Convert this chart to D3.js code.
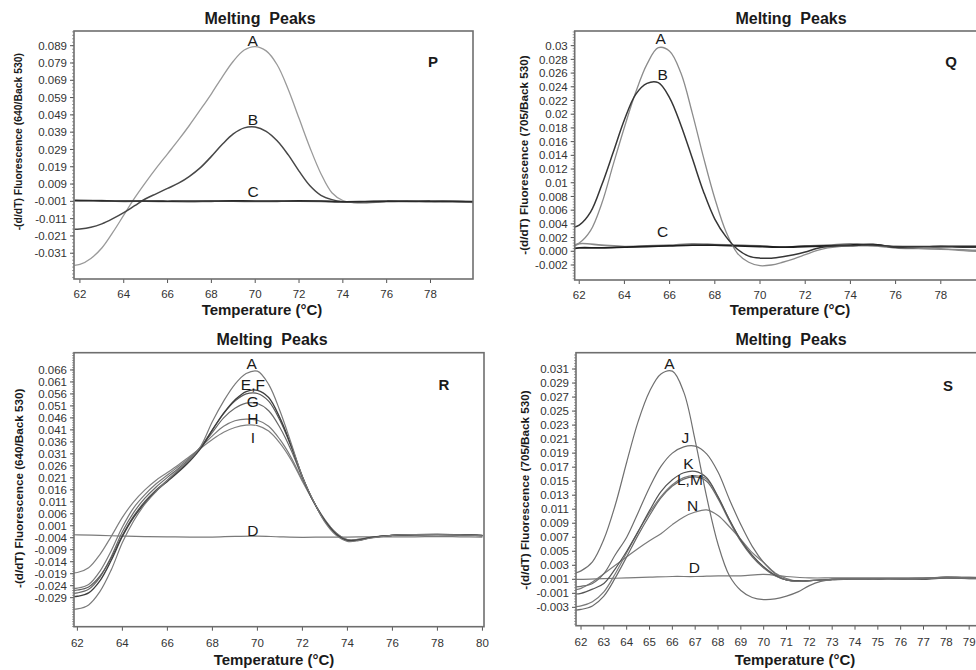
<!DOCTYPE html>
<html><head><meta charset="utf-8">
<script src="https://cdn.jsdelivr.net/npm/d3@7"></script>
<style>
body{margin:0;background:#fff;}
svg{display:block;font-family:"Liberation Sans",Arial,sans-serif;}
</style></head>
<body><svg id="chart" width="976" height="670"></svg>
<script>
// ---------- DATA ----------
const grid = [61.75,62,62.5,63,63.5,64,64.5,65,65.5,66,66.5,67,67.5,68,68.5,69,69.5,70,70.5,71,71.5,72,72.5,73,73.5,74,74.5,75,76,77,78,79,80];
const flatGrid = [61.75,62,63,64,65,66,67,68,69,70,71,72,73,74,75,76,77,78,79,80];

// Panel P (640/Back 530)
const pA = [-0.038,-0.0375,-0.034,-0.028,-0.019,-0.009,0.001,0.010,0.0185,0.0265,0.0345,0.043,0.052,0.0612,0.071,0.080,0.0865,0.0885,0.086,0.078,0.064,0.047,0.030,0.015,0.004,-0.0005,-0.0018,-0.002,-0.0012,-0.001,-0.0012,-0.0012,-0.0018];
const pB = [-0.0172,-0.017,-0.016,-0.014,-0.011,-0.0075,-0.0035,0.0005,0.0035,0.0065,0.0095,0.0135,0.0185,0.025,0.032,0.038,0.0415,0.042,0.0395,0.034,0.026,0.0165,0.008,0.0025,0.0,-0.0012,-0.0015,-0.0012,-0.001,-0.001,-0.001,-0.001,-0.0012];
const pC1 = [-0.0006,-0.0006,-0.0007,-0.0008,-0.0008,-0.0009,-0.0008,-0.0008,-0.0007,-0.0008,-0.0008,-0.0007,-0.0008,-0.0012,-0.0011,-0.0009,-0.001,-0.0009,-0.0011,-0.0011];
const pC2 = [-0.0004,-0.0005,-0.0006,-0.001,-0.0009,-0.0011,-0.0012,-0.001,-0.0009,-0.0011,-0.001,-0.0009,-0.001,-0.0014,-0.0015,-0.0011,-0.0009,-0.0012,-0.001,-0.0016];

// Panel Q (705/Back 530)
const qA = [0.0009,0.0012,0.003,0.007,0.0126,0.0181,0.0232,0.0273,0.0297,0.0292,0.026,0.0202,0.0137,0.0077,0.0028,-0.0003,-0.0016,-0.0021,-0.002,-0.0016,-0.0011,-0.0005,0.0001,0.0005,0.0007,0.0008,0.0008,0.0008,0.0007,0.0006,0.0004,0.0001,-0.0001];
const qB = [0.0035,0.0038,0.0057,0.0097,0.0144,0.0192,0.0229,0.0245,0.0246,0.0224,0.0184,0.0136,0.0087,0.0047,0.0021,0.0003,-0.0007,-0.001,-0.001,-0.0008,-0.0005,-0.0001,0.0004,0.0007,0.0008,0.0008,0.0009,0.0009,0.0007,0.0007,0.0007,0.0006,0.0006];
const qC1 = [0.0004,0.0005,0.0005,0.0006,0.0007,0.0008,0.0009,0.0009,0.0008,0.0007,0.0006,0.0007,0.0008,0.0009,0.001,0.0006,0.0006,0.0007,0.0007,0.0007];
const qC2 = [0.0007,0.0011,0.0009,0.0007,0.0008,0.0009,0.0011,0.001,0.0009,0.0008,0.0006,0.0008,0.0009,0.0011,0.0008,0.0005,0.0004,0.0003,0.0002,0.0001];

// Panel R (640/Back 530)
const rA = [-0.0338,-0.0337,-0.032,-0.0265,-0.0175,-0.006,0.003,0.010,0.0153,0.020,0.0245,0.0287,0.0345,0.0445,0.053,0.060,0.0645,0.0655,0.060,0.049,0.0355,0.0215,0.0112,0.0025,-0.003,-0.0055,-0.0052,-0.0042,-0.003,-0.0027,-0.0027,-0.0028,-0.0032];
const rE = [-0.0286,-0.0284,-0.027,-0.022,-0.0135,-0.0035,0.0045,0.0105,0.0155,0.0195,0.0235,0.028,0.0335,0.041,0.048,0.0535,0.057,0.0575,0.0545,0.046,0.0345,0.0215,0.011,0.003,-0.0025,-0.0052,-0.005,-0.004,-0.003,-0.0027,-0.0026,-0.0027,-0.0031];
const rF = [-0.026,-0.0258,-0.0245,-0.02,-0.0125,-0.003,0.005,0.0112,0.016,0.02,0.024,0.0285,0.034,0.041,0.0478,0.053,0.056,0.0562,0.053,0.045,0.034,0.0215,0.011,0.003,-0.0025,-0.005,-0.0049,-0.004,-0.003,-0.0028,-0.0027,-0.0027,-0.003];
const rG = [-0.0272,-0.027,-0.0255,-0.0205,-0.012,-0.0015,0.0065,0.0125,0.0172,0.0212,0.025,0.029,0.034,0.04,0.046,0.05,0.0522,0.052,0.049,0.042,0.0325,0.021,0.011,0.003,-0.0025,-0.005,-0.0048,-0.0039,-0.003,-0.0027,-0.0026,-0.0028,-0.0031];
const rH = [-0.0251,-0.025,-0.0235,-0.018,-0.0095,0.0005,0.0085,0.014,0.0185,0.0222,0.0258,0.0295,0.034,0.0385,0.0425,0.0448,0.0455,0.045,0.0425,0.037,0.0295,0.02,0.011,0.0035,-0.002,-0.0048,-0.0047,-0.0039,-0.003,-0.0027,-0.0027,-0.0027,-0.003];
const rI = [-0.0186,-0.0185,-0.0165,-0.011,-0.0035,0.0045,0.011,0.016,0.02,0.0232,0.0265,0.03,0.0335,0.037,0.04,0.042,0.043,0.0428,0.0405,0.0355,0.0285,0.0195,0.011,0.0035,-0.002,-0.0048,-0.0046,-0.0038,-0.003,-0.0028,-0.0027,-0.0028,-0.0032];
const rD = [-0.0027,-0.0028,-0.003,-0.0033,-0.0035,-0.0036,-0.0037,-0.0037,-0.0034,-0.0033,-0.0036,-0.0038,-0.0037,-0.0037,-0.0036,-0.0036,-0.0036,-0.0035,-0.0036,-0.0037];

// Panel S (705/Back 530)
const sA = [0.0019,0.0022,0.0035,0.0067,0.0116,0.0177,0.0235,0.0278,0.0303,0.0307,0.0277,0.0208,0.0128,0.006,0.0015,-0.0006,-0.0016,-0.0019,-0.0018,-0.0014,-0.0008,0.0001,0.0007,0.001,0.0011,0.0011,0.0011,0.0011,0.0011,0.0011,0.0013,0.0012,0.0011];
const sJ = [-0.0001,0.0,0.0004,0.0018,0.0045,0.007,0.0105,0.0141,0.0171,0.019,0.0199,0.02,0.0189,0.0163,0.0124,0.0088,0.0057,0.0034,0.0018,0.0009,0.0007,0.0008,0.0009,0.0009,0.001,0.001,0.001,0.0011,0.0011,0.0011,0.0012,0.0012,0.0011];
const sK = [-0.0011,-0.001,-0.0004,0.0004,0.0025,0.005,0.0078,0.0108,0.0135,0.0152,0.0162,0.0164,0.0155,0.0128,0.0095,0.0066,0.0044,0.0028,0.0016,0.0009,0.0008,0.0008,0.0009,0.001,0.001,0.0011,0.001,0.0011,0.0011,0.001,0.0012,0.0012,0.0011];
const sL = [-0.0029,-0.0028,-0.0022,-0.0008,0.0018,0.0048,0.0078,0.0105,0.0128,0.0145,0.0155,0.0158,0.0153,0.0127,0.0095,0.0066,0.0044,0.0027,0.0015,0.0009,0.0007,0.0008,0.0009,0.001,0.0011,0.001,0.0011,0.0011,0.001,0.0011,0.0012,0.0011,0.0011];
const sM = [-0.0034,-0.0033,-0.0028,-0.0014,0.0012,0.0042,0.0073,0.0101,0.0126,0.0143,0.0153,0.0156,0.015,0.0125,0.0093,0.0064,0.0042,0.0026,0.0015,0.0009,0.0007,0.0008,0.0009,0.001,0.001,0.0011,0.0011,0.001,0.0011,0.0011,0.0013,0.0012,0.0011];
const sN = [-0.0005,-0.0003,0.0006,0.0018,0.003,0.0042,0.0054,0.0065,0.0075,0.0088,0.0099,0.0106,0.0109,0.0101,0.0085,0.0067,0.0048,0.0034,0.0019,0.0011,0.0007,0.0008,0.0009,0.001,0.001,0.001,0.0011,0.0011,0.0011,0.0012,0.0012,0.0011,0.0011];
const sD = [0.001,0.001,0.0011,0.0012,0.0013,0.0014,0.0014,0.0015,0.0015,0.0017,0.0014,0.0012,0.0012,0.0012,0.0012,0.0012,0.0012,0.0013,0.0013,0.0012];

// Tick values and labels
const pXTicks = [62,64,66,68,70,72,74,76,78];
const qXTicks = [62,64,66,68,70,72,74,76,78];
const rXTicks = [62,64,66,68,70,72,74,76,78,80];
const sXTicks = [62,63,64,65,66,67,68,69,70,71,72,73,74,75,76,77,78,79];
const pYTicks = [-0.031,-0.021,-0.011,-0.001,0.009,0.019,0.029,0.039,0.049,0.059,0.069,0.079,0.089];
const pYLabels = ["-0.031","-0.021","-0.011","-0.001","0.009","0.019","0.029","0.039","0.049","0.059","0.069","0.079","0.089"];
const qYTicks = [-0.002,0,0.002,0.004,0.006,0.008,0.01,0.012,0.014,0.016,0.018,0.02,0.022,0.024,0.026,0.028,0.03];
const qYLabels = ["-0.002","0.000","0.002","0.004","0.006","0.008","0.01","0.012","0.014","0.016","0.018","0.02","0.022","0.024","0.026","0.028","0.03"];
const rYTicks = [-0.029,-0.024,-0.019,-0.014,-0.009,-0.004,0.001,0.006,0.011,0.016,0.021,0.026,0.031,0.036,0.041,0.046,0.051,0.056,0.061,0.066];
const rYLabels = ["-0.029","-0.024","-0.019","-0.014","-0.009","-0.004","0.001","0.006","0.011","0.016","0.021","0.026","0.031","0.036","0.041","0.046","0.051","0.056","0.061","0.066"];
const sYTicks = [-0.003,-0.001,0.001,0.003,0.005,0.007,0.009,0.011,0.013,0.015,0.017,0.019,0.021,0.023,0.025,0.027,0.029,0.031];
const sYLabels = ["-0.003","-0.001","0.001","0.003","0.005","0.007","0.009","0.011","0.013","0.015","0.017","0.019","0.021","0.023","0.025","0.027","0.029","0.031"];

// Curve labels (text, temperature, value)
const pLabels = [["A",69.88,0.0886],["B",69.9,0.0432],["C",69.9,0.0015]];
const qLabels = [["A",65.6,0.0302],["B",65.69,0.025],["C",65.69,0.0021]];
const rLabels = [["A",69.75,0.0663],["E,F",69.8,0.0577],["G",69.8,0.0507],["H",69.8,0.0435],["I",69.8,0.0355],["D",69.8,-0.0033]];
const sLabels = [["A",65.87,0.031],["J",66.57,0.0205],["K",66.7,0.0167],["L,M",66.77,0.01445],["N",66.89,0.01075],["D",66.96,0.00187]];

// ---------- DRAW ----------
const svg = d3.select("#chart");

const panels = [
  {id:"P", xd:[61.73,79.94], xr:[74,473], yd:[-0.0459,0.0975], yr:[279,31],
   xt:pXTicks, yt:pYTicks, yl:pYLabels, labels:pLabels,
   series:[[grid,pA,"#9a9a9a",1.3],[grid,pB,"#474747",1.5],[flatGrid,pC2,"#6a6a6a",1.6],[flatGrid,pC1,"#2a2a2a",1.6]],
   ytitle:"-(d/dT) Fluorescence (640/Back 530)", ytx:22, yty:141.7, ytsize:10.4,
   title:[260,23.5], xtitle:[262,315], letter:[433,66.5], xlabOff:18.5},
  {id:"Q", xd:[61.8,80], xr:[574.7,986], yd:[-0.00419,0.03214], yr:[280,31],
   xt:qXTicks, yt:qYTicks, yl:qYLabels, labels:qLabels,
   series:[[flatGrid,qC2,"#8a8a8a",1.6],[flatGrid,qC1,"#1e1e1e",1.8],[grid,qA,"#8c8c8c",1.3],[grid,qB,"#363636",1.5]],
   ytitle:"-(d/dT) Fluorescence (705/Back 530)", ytx:527.5, yty:155, ytsize:11.7,
   title:[791,23.5], xtitle:[790,315], letter:[951,66.5], xlabOff:18.5},
  {id:"R", xd:[61.85,80.07], xr:[74,484], yd:[-0.0411,0.0732], yr:[626.7,352.7],
   xt:rXTicks, yt:rYTicks, yl:rYLabels, labels:rLabels,
   series:[[flatGrid,rD,"#7a7a7a",1.2],[grid,rI,"#808080",1.2],[grid,rH,"#7a7a7a",1.2],[grid,rG,"#6a6a6a",1.2],[grid,rF,"#5a5a5a",1.2],[grid,rE,"#3e3e3e",1.3],[grid,rA,"#7a7a7a",1.2]],
   ytitle:"-(d/dT) Fluorescence (640/Back 530)", ytx:22.5, yty:488.3, ytsize:11.7,
   title:[272,345], xtitle:[274,665], letter:[444,389.5], xlabOff:20},
  {id:"S", xd:[61.78,80], xr:[576,992], yd:[-0.00562,0.03333], yr:[625.7,352.7],
   xt:sXTicks, yt:sYTicks, yl:sYLabels, labels:sLabels,
   series:[[flatGrid,sD,"#7a7a7a",1.2],[grid,sN,"#7a7a7a",1.2],[grid,sM,"#6a6a6a",1.2],[grid,sL,"#7a7a7a",1.2],[grid,sK,"#555",1.2],[grid,sJ,"#6e6e6e",1.2],[grid,sA,"#707070",1.2]],
   ytitle:"-(d/dT) Fluorescence (705/Back 530)", ytx:529, yty:490, ytsize:11.7,
   title:[791,345], xtitle:[795,665], letter:[948,391], xlabOff:20.5}
];

const defs = svg.append("defs");

panels.forEach(p => {
  const x = d3.scaleLinear().domain(p.xd).range(p.xr);
  const y = d3.scaleLinear().domain(p.yd).range(p.yr);
  const g = svg.append("g");
  const x0 = p.xr[0], x1 = p.xr[1], yTop = p.yr[1], yBot = p.yr[0];

  defs.append("clipPath").attr("id","clip"+p.id).append("rect")
    .attr("x",x0).attr("y",yTop).attr("width",x1-x0).attr("height",yBot-yTop);

  // title
  g.append("text").attr("x",p.title[0]).attr("y",p.title[1]).attr("text-anchor","middle")
    .attr("font-size",16).attr("font-weight","bold").attr("fill","#1a1a1a")
    .attr("xml:space","preserve").text("Melting  Peaks");

  // y axis (ticks outward + minor)
  const ya = g.append("g");
  const step = p.yt[1]-p.yt[0];
  const minor = [];
  for (let v = p.yt[0]; v <= p.yd[1]; v += step/5) minor.push(v);
  for (let v = p.yt[0]-step/5; v >= p.yd[0]; v -= step/5) minor.push(v);
  ya.selectAll(".mn").data(minor).join("line")
    .attr("x1",x0-2).attr("x2",x0).attr("y1",d=>y(d)).attr("y2",d=>y(d))
    .attr("stroke","#8a8a8a").attr("stroke-width",0.8);
  ya.selectAll(".mj").data(p.yt).join("line")
    .attr("x1",x0-4).attr("x2",x0).attr("y1",d=>y(d)).attr("y2",d=>y(d))
    .attr("stroke","#555").attr("stroke-width",1);
  ya.selectAll("text").data(p.yt).join("text")
    .attr("x",x0-7).attr("y",d=>y(d)).attr("dy","0.36em").attr("text-anchor","end")
    .attr("font-size",11.5).attr("fill","#333").text((d,i)=>p.yl[i]);

  // x axis
  const xa = g.append("g");
  xa.selectAll("line").data(p.xt).join("line")
    .attr("x1",d=>x(d)).attr("x2",d=>x(d)).attr("y1",yBot).attr("y2",yBot+4)
    .attr("stroke","#555").attr("stroke-width",1);
  xa.selectAll("text").data(p.xt).join("text")
    .attr("x",d=>x(d)).attr("y",yBot+p.xlabOff).attr("text-anchor","middle")
    .attr("font-size",11.5).attr("fill","#333").text(d=>d);

  // axis titles
  g.append("text").attr("x",p.xtitle[0]).attr("y",p.xtitle[1]).attr("text-anchor","middle")
    .attr("font-size",15).attr("font-weight","bold").attr("fill","#1a1a1a").text("Temperature (°C)");
  g.append("text").attr("transform",`translate(${p.ytx},${p.yty}) rotate(-90)`)
    .attr("text-anchor","middle").attr("font-size",p.ytsize).attr("font-weight","bold")
    .attr("fill","#1a1a1a").text(p.ytitle);

  // curves
  const plot = g.append("g").attr("clip-path",`url(#clip${p.id})`);
  const line = d3.line().curve(d3.curveCatmullRom.alpha(0.5));
  p.series.forEach(([xs,vals,col,w]) => {
    plot.append("path")
      .attr("d", line(xs.map((t,i)=>[x(t), y(vals[i])])))
      .attr("fill","none").attr("stroke",col).attr("stroke-width",w);
  });

  // frame
  g.append("rect").attr("x",x0).attr("y",yTop).attr("width",x1-x0).attr("height",yBot-yTop)
    .attr("fill","none").attr("stroke","#6e6e6e").attr("stroke-width",1.6);

  // curve labels
  g.selectAll(".lbl").data(p.labels).join("text")
    .attr("x",d=>x(d[1])).attr("y",d=>y(d[2])).attr("text-anchor","middle")
    .attr("font-size",15.5).attr("fill","#1a1a1a").text(d=>d[0]);

  // panel letter
  g.append("text").attr("x",p.letter[0]).attr("y",p.letter[1]).attr("text-anchor","middle")
    .attr("font-size",15).attr("font-weight","bold").attr("fill","#1a1a1a").text(p.id);
});
</script></body></html>
